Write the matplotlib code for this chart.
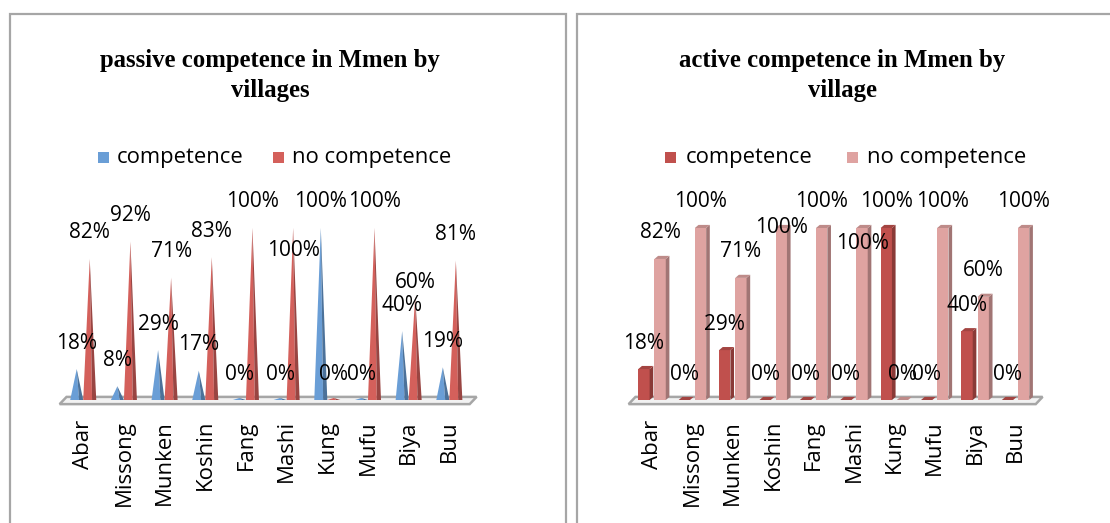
import matplotlib
matplotlib.use("Agg")
import matplotlib.pyplot as plt
from matplotlib.patches import Rectangle, Polygon
import matplotlib.colors as mc

# ---------------- data ----------------
villages = ['Abar', 'Missong', 'Munken', 'Koshin', 'Fang', 'Mashi', 'Kung', 'Mufu', 'Biya', 'Buu']
passive_competence = [18, 8, 29, 17, 0, 0, 100, 0, 40, 19]
passive_no_competence = [82, 92, 71, 83, 100, 100, 0, 100, 60, 81]
active_competence = [18, 0, 29, 0, 0, 0, 100, 0, 40, 0]
active_no_competence = [82, 100, 71, 100, 100, 100, 0, 100, 60, 100]
series_names = ['competence', 'no competence']
titles = ['passive competence in Mmen by\nvillages', 'active competence in Mmen by\nvillage']

W, H = 1110, 523
fig = plt.figure(figsize=(W / 100, H / 100), dpi=100)
fig.patch.set_facecolor('white')

def fx(x):
    return x / W

def fy(y):
    return 1 - y / H

LABEL_FONT = 'Open Sans'
TITLE_FONT = 'Liberation Serif'

# panel borders
for (x0, x1) in [(10, 566), (577, 1120)]:
    fig.add_artist(Rectangle((fx(x0), fy(540)), fx(x1) - fx(x0), fy(14) - fy(540),
                             transform=fig.transFigure, fill=False,
                             edgecolor='#A6A6A6', linewidth=1.6))

YMAX = 200 / 172.0

def make_axes(x0, x1):
    ax = fig.add_axes([fx(x0), fy(400), fx(x1) - fx(x0), 200 / H])
    ax.set_xlim(-0.62, 9.68)
    ax.set_ylim(0, YMAX)
    ax.axis('off')
    return ax

def floor(ax):
    pts = [(-0.58, -0.024), (9.50, -0.024), (9.67, 0.018), (-0.41, 0.018)]
    ax.add_patch(Polygon(pts, closed=True, facecolor='#F2F2F2', edgecolor='#A6A6A6',
                         linewidth=1.8, clip_on=False, zorder=1))

def shade(c, f):
    r, g, b = mc.to_rgb(c)
    return (r * f, g * f, b * f)

def cone(ax, x, v, color, w=0.32):
    h = max(v / 100.0, 0.012)
    left = [(x - w / 2, 0), (x, h), (x + w * 0.18, 0)]
    right = [(x + w * 0.18, 0), (x, h), (x + w / 2, 0)]
    ax.add_patch(Polygon(left, closed=True, facecolor=color, edgecolor='none', zorder=3))
    ax.add_patch(Polygon(right, closed=True, facecolor=shade(color, 0.72), edgecolor='none', zorder=3))

def bar3d(ax, x, v, color, w=0.28, dx=0.09, dy=0.018):
    h = v / 100.0
    x0, x1 = x - w / 2, x + w / 2
    ax.add_patch(Polygon([(x0, 0), (x1, 0), (x1, h), (x0, h)], closed=True,
                         facecolor=color, edgecolor='none', zorder=3))
    ax.add_patch(Polygon([(x1, 0), (x1 + dx, dy), (x1 + dx, h + dy), (x1, h)], closed=True,
                         facecolor=shade(color, 0.72), edgecolor='none', zorder=3))
    ax.add_patch(Polygon([(x0, h), (x1, h), (x1 + dx, h + dy), (x0 + dx, h + dy)], closed=True,
                         facecolor=shade(color, 0.85), edgecolor='none', zorder=3))

LBL_OFF = 26 / 172.0
FS_LBL = 15
FS_CAT = 16
FS_LEG = 15.8
FS_TITLE = 17.8

def label(ax, x, v, nudge_px=0):
    ax.text(x, v / 100.0 + LBL_OFF - nudge_px / 172.0, f'{v}%', ha='center', va='center',
            fontsize=FS_LBL, family=LABEL_FONT, color='black', zorder=5, clip_on=False)

def xlabels(ax):
    for i, name in enumerate(villages):
        ax.text(i, -20 / 172.0, name, rotation=90, ha='center', va='top',
                fontsize=FS_CAT, family=LABEL_FONT, color='black', clip_on=False)

# ---------------- left panel: cones ----------------
blue = '#6A9ED6'
red = '#D4605B'
axL = make_axes(58, 477)
floor(axL)
nudgeL_no = {5: 49, 8: 12}
for i in range(len(villages)):
    cone(axL, i - 0.16, passive_competence[i], blue)
    cone(axL, i + 0.16, passive_no_competence[i], red)
for i in range(len(villages)):
    label(axL, i - 0.16, passive_competence[i])
    label(axL, i + 0.16, passive_no_competence[i], nudgeL_no.get(i, 0))
xlabels(axL)

# ---------------- right panel: 3D bars ----------------
dark = '#C0504D'
pink = '#DFA3A1'
axR = make_axes(627, 1043)
floor(axR)
nudgeR_no = {3: 26, 5: 42}
for i in range(len(villages)):
    bar3d(axR, i - 0.2, active_competence[i], dark)
    bar3d(axR, i + 0.2, active_no_competence[i], pink)
for i in range(len(villages)):
    label(axR, i - 0.2, active_competence[i])
    label(axR, i + 0.2, active_no_competence[i], nudgeR_no.get(i, 0))
xlabels(axR)

# ---------------- titles ----------------
for t, cx in zip(titles, [270, 842]):
    l1, l2 = t.split('\n')
    fig.text(fx(cx), fy(61), l1, ha='center', va='center', fontsize=FS_TITLE,
             family=TITLE_FONT, weight='bold')
    fig.text(fx(cx), fy(91), l2, ha='center', va='center', fontsize=FS_TITLE,
             family=TITLE_FONT, weight='bold')

# ---------------- legends ----------------
def legend_item(xsq, xtxt, color, text):
    fig.add_artist(Rectangle((fx(xsq), fy(163)), 11 / W, 11 / H, transform=fig.transFigure,
                             facecolor=color, edgecolor='none'))
    fig.text(fx(xtxt), fy(157), text, ha='left', va='center', fontsize=FS_LEG,
             family=LABEL_FONT)

legend_item(98, 117, blue, series_names[0])
legend_item(273, 292, red, series_names[1])
legend_item(665, 686, dark, series_names[0])
legend_item(847, 867, pink, series_names[1])

fig.savefig('out.png', dpi=100, facecolor='white')
